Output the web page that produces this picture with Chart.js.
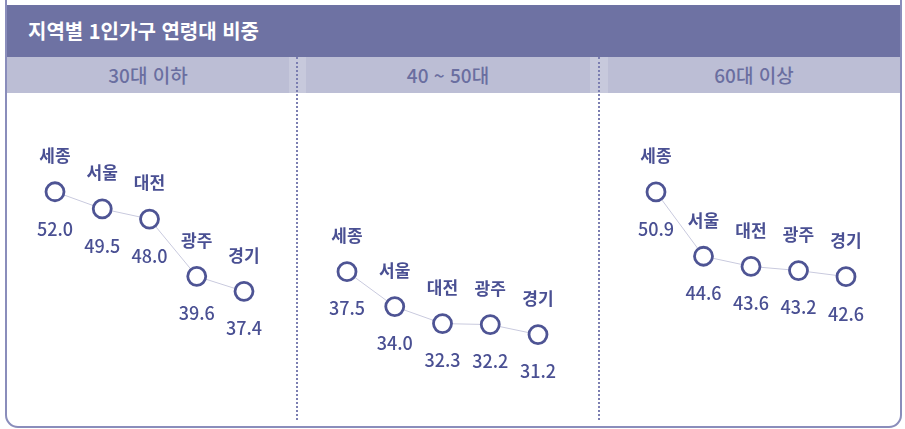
<!DOCTYPE html>
<html lang="ko">
<head>
<meta charset="utf-8">
<script src="https://cdn.jsdelivr.net/npm/chart.js@4/dist/chart.umd.min.js"></script>
<style>
  html, body { margin: 0; padding: 0; background: #fff; }
  body { width: 905px; height: 429px; position: relative; overflow: hidden; font-family: "Noto Sans CJK KR", "Noto Sans", sans-serif; }
  .frame { position: absolute; left: 5px; top: -14px; width: 897px; height: 442px; box-sizing: border-box; border: 2px solid #8a8dbb; border-radius: 13px; }
  .header { position: absolute; left: 7px; top: 5px; width: 893px; height: 52px; background: #6e72a3; }
  .title { position: absolute; left: 28px; top: 5px; height: 52px; line-height: 52px; color: #fff; font-weight: 700; font-size: 20px; }
  .sub { position: absolute; top: 57px; height: 36px; background: #bcbed5; color: #6a6ea0; font-size: 19px; font-weight: 500; line-height: 36px; text-align: center; }
  .gap { position: absolute; top: 57px; height: 36px; background: #c7c9dc; }
  .dot { position: absolute; top: 57px; height: 363px; width: 0; border-left: 2px dotted #7b7eb1; }
  canvas { position: absolute; }
</style>
</head>
<body>
<div class="frame"></div>
<div class="header"></div>
<div class="title">지역별 1인가구 연령대 비중</div>
<div class="sub" style="left:7px;width:282px;">30대 이하</div>
<div class="gap" style="left:289px;width:17px;"></div>
<div class="sub" style="left:306px;width:284px;">40 ~ 50대</div>
<div class="gap" style="left:590px;width:18px;"></div>
<div class="sub" style="left:608px;width:292px;">60대 이상</div>
<div class="dot" style="left:296px;"></div>
<div class="dot" style="left:598px;"></div>

<div id="w1" style="position:absolute;left:7px;top:93px;width:282px;height:322px;"><canvas id="c1"></canvas></div>
<div id="w2" style="position:absolute;left:306px;top:93px;width:284px;height:322px;"><canvas id="c2"></canvas></div>
<div id="w3" style="position:absolute;left:608px;top:93px;width:292px;height:322px;"><canvas id="c3"></canvas></div>

<script>
// ---- data ----
const groups = ["30대 이하", "40 ~ 50대", "60대 이상"];
const regions1 = ["세종", "서울", "대전", "광주", "경기"];
const values1 = [52.0, 49.5, 48.0, 39.6, 37.4];
const regions2 = ["세종", "서울", "대전", "광주", "경기"];
const values2 = [37.5, 34.0, 32.3, 32.2, 31.2];
const regions3 = ["세종", "서울", "대전", "광주", "경기"];
const values3 = [50.9, 44.6, 43.6, 43.2, 42.6];

const TEXT = "#4a5093";
const labelPlugin = {
  id: "pointLabels",
  afterDatasetsDraw(chart) {
    const ctx = chart.ctx;
    const meta = chart.getDatasetMeta(0);
    const ds = chart.data.datasets[0];
    ctx.save();
    ctx.fillStyle = TEXT;
    ctx.textAlign = "center";
    ctx.textBaseline = "middle";
    meta.data.forEach((pt, i) => {
      ctx.font = '700 17px "Noto Sans CJK KR", "Noto Sans", sans-serif';
      ctx.fillText(chart.data.labels[i], pt.x, pt.y - 36);
      ctx.font = '500 18px "Noto Sans CJK KR", "Noto Sans", sans-serif';
      ctx.fillText(ds.data[i].toFixed(1), pt.x, pt.y + 37);
    });
    ctx.restore();
  }
};

function makeChart(id, labels, values, yMin, yMax, padL, padR) {
  new Chart(document.getElementById(id), {
    type: "line",
    data: {
      labels: labels,
      datasets: [{
        data: values,
        borderColor: "#c9cade",
        borderWidth: 1,
        pointRadius: 9,
        pointHoverRadius: 9,
        pointBorderWidth: 2.8,
        pointBorderColor: "#4e5494",
        pointBackgroundColor: "#ffffff",
        tension: 0,
        clip: false
      }]
    },
    options: {
      responsive: true,
      maintainAspectRatio: false,
      animation: false,
      events: [],
      layout: { padding: { left: padL, right: padR, top: 0, bottom: 0 } },
      plugins: { legend: { display: false }, tooltip: { enabled: false } },
      scales: {
        x: { type: "category", offset: false, display: false },
        y: { min: yMin, max: yMax, display: false }
      }
    },
    plugins: [labelPlugin]
  });
}

makeChart("c1", regions1, values1, 21.0, 64.75, 48, 45);
makeChart("c2", regions2, values2, 24.33, 54.2, 41, 52);
makeChart("c3", regions3, values3, 30.21, 59.43, 48, 54);
</script>
</body>
</html>
